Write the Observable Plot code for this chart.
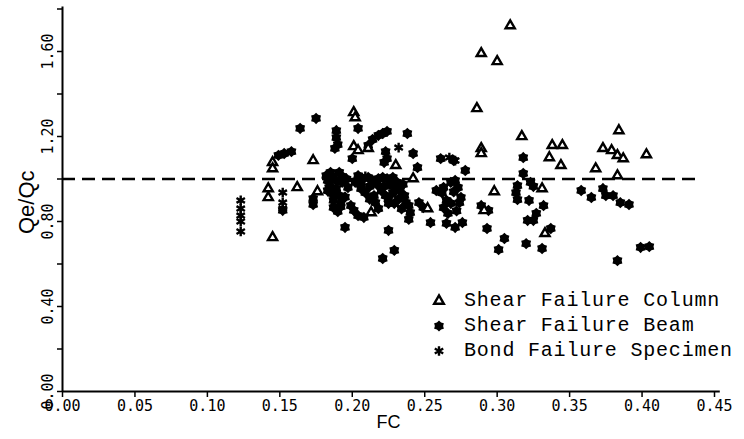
<!DOCTYPE html>
<html>
<head>
<meta charset="utf-8">
<script src="https://cdn.jsdelivr.net/npm/d3@7"></script>
<script src="https://cdn.jsdelivr.net/npm/@observablehq/plot@0.6"></script>
<style>
  html, body { margin: 0; padding: 0; background: #fff; }
  #wrap { position: relative; width: 744px; height: 439px; }
  #legend { position: absolute; left: 428px; top: 288px; font-family: "Liberation Mono", monospace; font-size: 20px; letter-spacing: 0.8px; color: #000; }
  #legend div { height: 25px; line-height: 25px; white-space: nowrap; display: flex; align-items: center; }
  #legend svg { width: 22px; height: 22px; margin-right: 14px; }
</style>
</head>
<body>
<div id="wrap"></div>
<script>
// ---- data: [FC, Qe/Qc] ----
const shearColumn = [
  [0.145,1.078],[0.145,1.049],[0.173,1.087],[0.142,0.955],[0.142,0.913],[0.162,0.960],
  [0.176,0.941],[0.145,0.725],[0.201,1.313],[0.202,1.289],[0.201,1.153],[0.204,1.134],
  [0.211,1.144],[0.213,0.842],[0.230,1.064],[0.242,1.002],[0.252,0.861],[0.286,1.332],
  [0.309,1.722],[0.289,1.591],[0.300,1.553],[0.289,1.144],[0.289,1.120],[0.298,0.941],
  [0.317,1.200],[0.331,0.955],[0.338,1.158],[0.345,1.158],[0.336,1.101],[0.344,1.064],
  [0.333,0.744],[0.291,0.852],[0.368,1.049],[0.383,1.016],[0.384,1.228],[0.373,1.144],
  [0.379,1.134],[0.383,1.111],[0.387,1.096],[0.403,1.115]
];
const shearBeam = [
  [0.149,1.111],[0.153,1.120],[0.158,1.129],[0.152,0.852],[0.164,1.238],[0.175,1.285],
  [0.173,0.908],[0.173,0.880],
  [0.189,1.228],[0.189,1.195],[0.190,1.162],[0.188,1.144],
  [0.182,1.016],[0.185,1.031],[0.191,1.031],[0.193,1.012],[0.183,0.993],[0.189,0.993],
  [0.193,0.984],[0.184,0.960],[0.189,0.955],[0.186,0.932],[0.191,0.922],[0.187,0.899],
  [0.192,0.885],[0.187,0.866],[0.190,0.847],[0.196,1.000],[0.197,0.960],[0.195,0.915],
  [0.186,1.010],[0.183,0.945],[0.192,0.870],
  [0.201,0.852],[0.208,0.819],[0.195,0.772],[0.225,0.758],[0.229,0.664],[0.221,0.626],
  [0.204,1.238],[0.225,0.885],
  [0.211,1.158],[0.214,1.186],[0.218,1.205],[0.221,1.214],[0.224,1.224],[0.238,1.214],
  [0.223,1.129],[0.224,1.096],[0.222,1.078],[0.242,1.120],[0.245,1.054],[0.200,1.096],
  [0.204,1.016],[0.207,1.002],[0.211,1.007],[0.214,0.993],[0.218,1.002],[0.221,1.007],
  [0.224,1.002],[0.228,1.007],[0.231,0.984],[0.206,0.955],[0.209,0.936],[0.215,0.922],
  [0.220,0.946],[0.223,0.922],[0.228,0.936],[0.233,0.946],[0.236,0.922],[0.237,0.889],
  [0.239,0.875],[0.240,0.842],[0.239,0.810],[0.216,0.889],[0.218,0.861],[0.246,0.889],
  [0.249,0.866],[0.199,0.875],[0.204,0.828],[0.254,0.795],
  [0.202,0.985],[0.206,0.975],[0.212,0.965],[0.217,0.975],[0.222,0.965],[0.226,0.975],
  [0.230,0.965],[0.235,0.975],[0.212,0.905],[0.225,0.905],[0.232,0.905],[0.234,0.860],
  [0.229,0.885],
  [0.261,1.096],[0.270,1.087],[0.278,1.040],[0.258,0.946],[0.263,0.960],[0.268,0.984],
  [0.271,0.993],[0.273,0.960],[0.265,0.899],[0.268,0.885],[0.275,0.913],[0.266,0.838],
  [0.265,0.791],[0.271,0.772],[0.276,0.795],[0.274,0.889],[0.262,0.935],[0.270,0.940],
  [0.263,0.865],[0.272,0.850],
  [0.289,0.875],[0.294,0.852],[0.293,0.767],[0.305,0.720],[0.301,0.668],[0.318,1.101],
  [0.318,1.026],[0.323,0.984],[0.314,0.969],[0.313,0.936],[0.314,0.903],[0.325,0.965],
  [0.322,0.899],[0.332,0.875],[0.327,0.838],[0.325,0.805],[0.321,0.805],[0.320,0.696],
  [0.331,0.673],[0.337,0.767],
  [0.358,0.946],[0.365,0.913],[0.373,0.955],[0.375,0.922],[0.380,0.922],[0.385,0.889],
  [0.391,0.880],[0.383,0.616],[0.399,0.678],[0.405,0.682]
];
const bondSpecimen = [
  [0.123,0.899],[0.123,0.861],[0.123,0.828],[0.123,0.800],[0.123,0.753],
  [0.152,0.936],[0.152,0.889],[0.152,0.861],
  [0.187,1.016],[0.185,0.979],[0.209,1.012],[0.232,1.148],[0.267,1.101],[0.271,1.087]
];
const xTicks = [0, 0.05, 0.10, 0.15, 0.20, 0.25, 0.30, 0.35, 0.40, 0.45];
const yMajorTicks = [0, 0.4, 0.8, 1.2, 1.6];
const yMinorTicks = [0.2, 0.6, 1.0, 1.4, 1.8];
const legendLabels = ["Shear Failure Column", "Shear Failure Beam", "Bond Failure Specimen"];
const xLabel = "FC";
const yLabel = "Qe/Qc";
const refLine = 1.0;

// six-pointed filled star for beams
const beamSymbol = {
  draw(context, size) {
    const R = Math.sqrt(size / Math.PI), r0 = R * 0.74;
    for (let i = 0; i < 12; i++) {
      const a = (i * Math.PI) / 6 - Math.PI / 2;
      const rr = i % 2 === 0 ? R : r0;
      const px = rr * Math.cos(a), py = rr * Math.sin(a);
      if (i === 0) context.moveTo(px, py); else context.lineTo(px, py);
    }
    context.closePath();
  }
};

const tickFont = "DejaVu Sans Mono, monospace";

const chart = Plot.plot({
  width: 744,
  height: 439,
  marginLeft: 62,
  marginRight: 30,
  marginTop: 8.5,
  marginBottom: 48,
  style: { background: "white", color: "black", fontFamily: tickFont, fontSize: "15px" },
  x: { domain: [0, 0.45], axis: null },
  y: { domain: [0, 1.8], axis: null },
  marks: [
    Plot.ruleY([0], { x1: 0, x2: 0.454, stroke: "black", strokeWidth: 2 }),
    Plot.ruleX([0], { y1: 0, y2: 1.81, stroke: "black", strokeWidth: 2 }),
    Plot.axisX({ ticks: xTicks, tickFormat: d3.format(".2f"), tickSize: 6, tickPadding: 3, label: null, strokeWidth: 1.5, fontSize: 15 }),
    Plot.axisY({ ticks: yMajorTicks, tickFormat: d3.format(".2f"), tickRotate: -90, tickSize: 5, tickPadding: 5, label: null, strokeWidth: 1.5, fontSize: 15 }),
    Plot.axisY({ ticks: yMinorTicks, tickFormat: () => "", tickSize: 5, label: null, strokeWidth: 1.5 }),
    Plot.ruleY([refLine], { x1: 0, x2: 0.4406, stroke: "black", strokeWidth: 2.5, strokeDasharray: "13,7" }),
    Plot.dot(shearBeam, { x: d => d[0], y: d => d[1], symbol: beamSymbol, r: 5.7, fill: "black", stroke: "none" }),
    Plot.dot(shearColumn, { x: d => d[0], y: d => d[1], symbol: "triangle", r: 3.4, fill: "white", stroke: "black", strokeWidth: 2.4 }),
    Plot.dot(bondSpecimen, { x: d => d[0], y: d => d[1], symbol: "asterisk", r: 4.6, stroke: "black", strokeWidth: 2.4 }),
    Plot.text([xLabel], { frameAnchor: "bottom", dy: 36, fontSize: 18, fontFamily: "Liberation Sans, Arial, sans-serif" }),
    Plot.text([yLabel], { frameAnchor: "left", textAnchor: "middle", dx: -36, dy: 2, rotate: -90, fontSize: 22, fontFamily: "Liberation Sans, Arial, sans-serif" })
  ]
});

const wrap = document.getElementById("wrap");
wrap.appendChild(chart);

// legend overlay
const legend = document.createElement("div");
legend.id = "legend";
const symbols = [
  { type: d3.symbolTriangle, size: Math.PI * 3.6 * 3.6, fill: "white", stroke: "black", sw: 2.4 },
  { type: beamSymbol, size: Math.PI * 5.6 * 5.6, fill: "black", stroke: "none", sw: 0 },
  { type: d3.symbolAsterisk, size: Math.PI * 4.6 * 4.6, fill: "none", stroke: "black", sw: 2.4 }
];
legendLabels.forEach((label, i) => {
  const row = document.createElement("div");
  const s = symbols[i];
  const path = d3.symbol(s.type, s.size)();
  row.innerHTML = `<svg viewBox="-11 -11 22 22"><path d="${path}" fill="${s.fill}" stroke="${s.stroke}" stroke-width="${s.sw}"/></svg><span>${label}</span>`;
  legend.appendChild(row);
});
wrap.appendChild(legend);
</script>
</body>
</html>
